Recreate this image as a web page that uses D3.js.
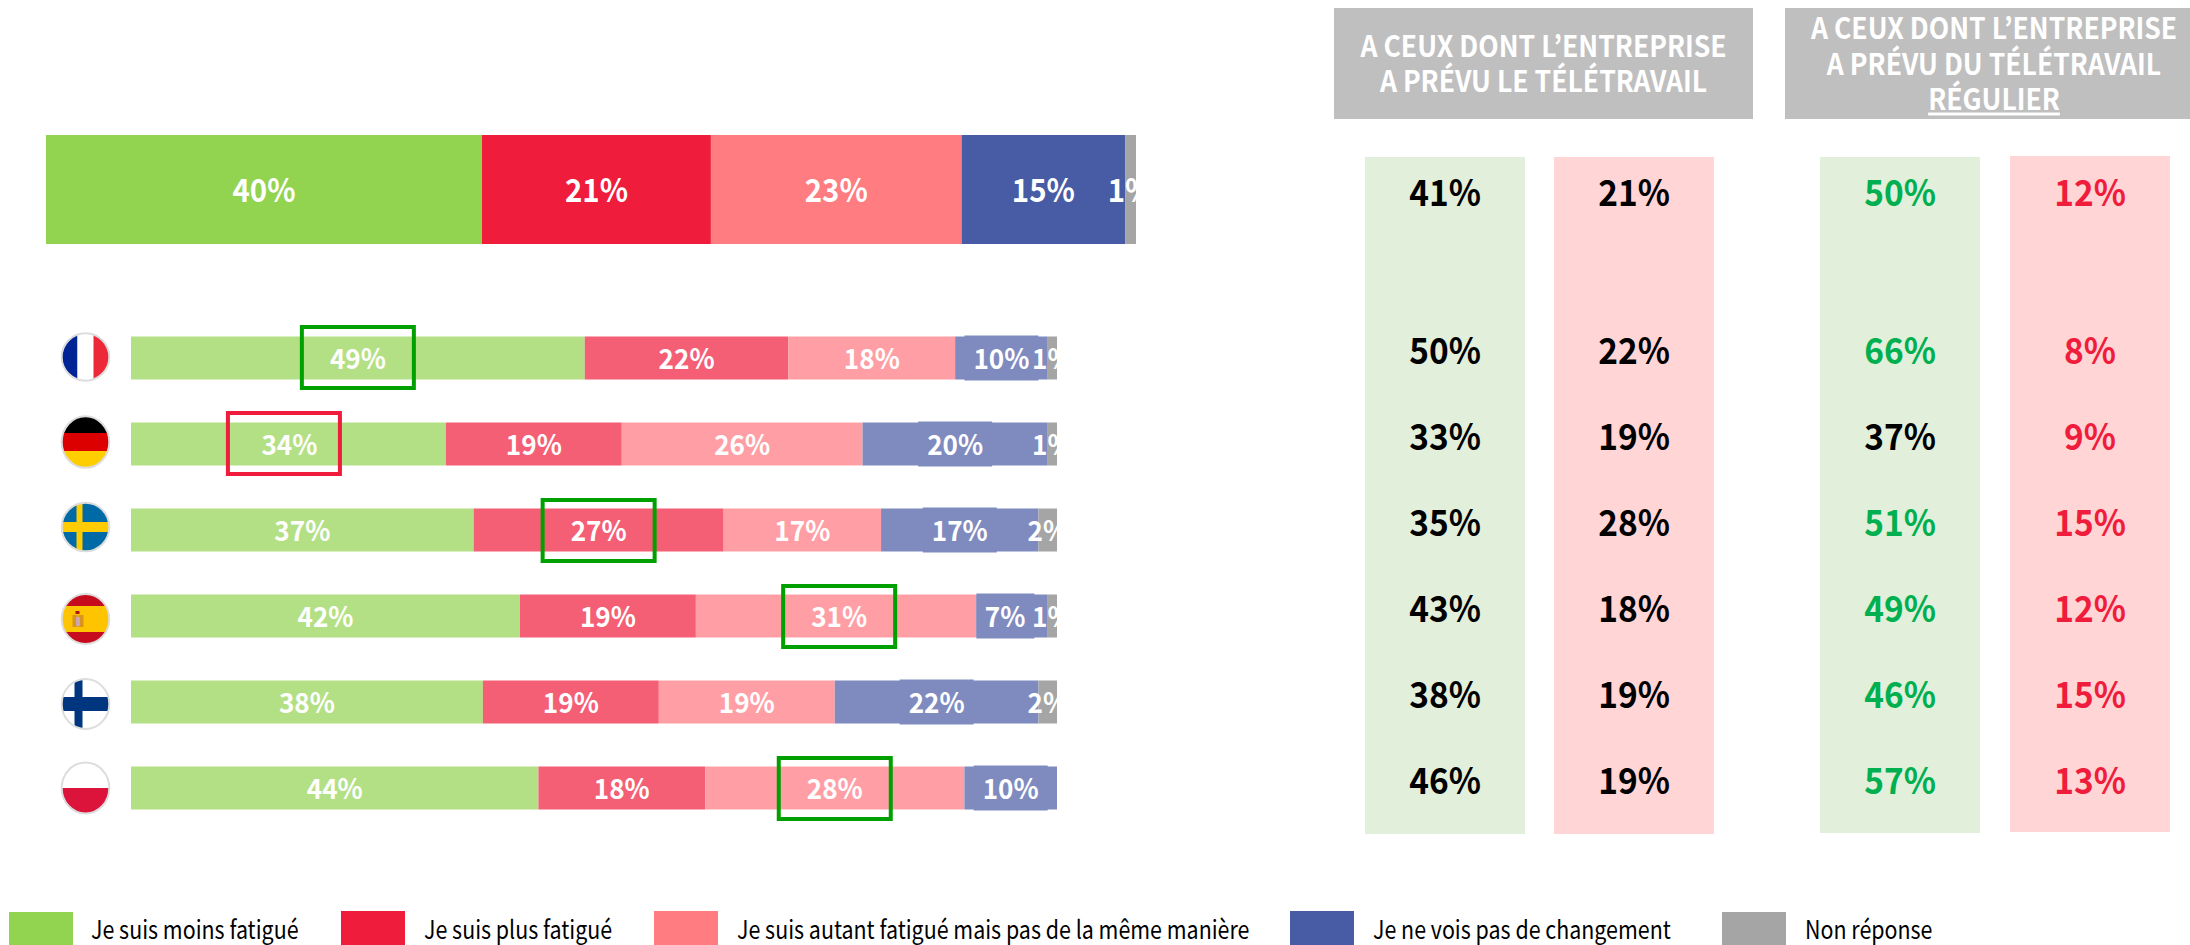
<!DOCTYPE html>
<html>
<head>
<meta charset="utf-8">
<script src="https://cdn.jsdelivr.net/npm/d3@7"></script>
<style>
  html, body { margin: 0; padding: 0; background: #fff; overflow: hidden; }
  svg { display: block; }
  text { font-family: "Noto Sans CJK JP", "Source Sans Pro", "Noto Sans", sans-serif; }
</style>
</head>
<body>
<div id="chart"></div>
<script>
// data
const seriesKeys = ["moins", "plus", "autant", "pareil", "nr"]
const seriesNames = ["Je suis moins fatigué", "Je suis plus fatigué", "Je suis autant fatigué mais pas de la même manière", "Je ne vois pas de changement", "Non réponse"]
const strongColors = ["#92D350", "#F01C3C", "#FF7C80", "#475CA4", "#A5A5A5"]
const lightColors = ["#B4E085", "#F45F76", "#FF9FA5", "#7F8BBF", "#A5A5A5"]

const totalValues = [40, 21, 23, 15, 1]

const countries = ["France", "Allemagne", "Suède", "Espagne", "Finlande", "Pologne"]
const moins = [49, 34, 37, 42, 38, 44]
const plus = [22, 19, 27, 19, 19, 18]
const autant = [18, 26, 17, 30.3, 19, 28]
const pareil = [10, 20, 17, 7.7, 22, 10]
const nr = [1, 1, 2, 1, 2, 0]
const autantLabels = [18, 26, 17, 31, 19, 28]
const pareilLabels = [10, 20, 17, 7, 22, 10]

// boxed labels: country, series, colour
const boxes = [
  ["France", "moins", "#00A000"],
  ["Allemagne", "moins", "#F01C3C"],
  ["Suède", "plus", "#00A000"],
  ["Espagne", "autant", "#00A000"],
  ["Pologne", "autant", "#00A000"]
]

const rowNames = ["Total"].concat(countries)
const prevuMoins = [41, 50, 33, 35, 43, 38, 46]
const prevuPlus = [21, 22, 19, 28, 18, 19, 19]
const regulierMoins = [50, 66, 37, 51, 49, 46, 57]
const regulierPlus = [12, 8, 9, 15, 12, 15, 13]
const regulierMoinsGreen = [true, true, false, true, true, true, true]

const svg = d3.select("#chart").append("svg").attr("width", 2190).attr("height", 945)
const defs = svg.append("defs")

const xTotal = d3.scaleLinear().domain([0, 100]).range([46, 1136])
const x = d3.scaleLinear().domain([0, 100]).range([131, 1057])
const y = d3.scalePoint().domain(countries).range([358, 788])
const barH = 43
const labelDx = { "Allemagne-moins": 1, "Espagne-autant": 3, "Espagne-pareil": -7 }
const color = d3.scaleOrdinal().domain(seriesKeys)

// the reference type is a bit narrower than the installed face
const squeeze = (px, py, sx) => `translate(${px},${py}) scale(${sx},1)`

// clip so the little 1% / 2% labels get cut at the end of the bars
defs.append("clipPath").attr("id", "clip-total").append("rect")
  .attr("x", 46).attr("y", 100).attr("width", 1090).attr("height", 180)
defs.append("clipPath").attr("id", "clip-rows").append("rect")
  .attr("x", 131).attr("y", 300).attr("width", 926).attr("height", 540)

// top bar
const totalRow = [Object.fromEntries(seriesKeys.map((k, i) => [k, totalValues[i]]))]
const totalStack = d3.stack().keys(seriesKeys)(totalRow)
color.range(strongColors)
const gTotal = svg.append("g")
gTotal.selectAll("rect").data(totalStack).join("rect")
  .attr("x", d => xTotal(d[0][0]))
  .attr("y", 135)
  .attr("width", d => xTotal(d[0][1]) - xTotal(d[0][0]))
  .attr("height", 109)
  .attr("fill", d => color(d.key))
gTotal.append("g").attr("clip-path", "url(#clip-total)")
  .selectAll("text").data(totalStack).join("text")
  .attr("transform", d => squeeze(xTotal((d[0][0] + d[0][1]) / 2), 191, 0.92))
  .attr("dy", "0.35em")
  .attr("text-anchor", "middle")
  .attr("font-size", 32)
  .attr("font-weight", 700)
  .attr("fill", "#fff")
  .text(d => d[0][1] - d[0][0] + "%")

// country bars
const rows = countries.map((c, i) => ({
  country: c, moins: moins[i], plus: plus[i], autant: autant[i], pareil: pareil[i], nr: nr[i],
  labels: { moins: moins[i], plus: plus[i], autant: autantLabels[i], pareil: pareilLabels[i], nr: nr[i] }
}))
const stacked = d3.stack().keys(seriesKeys)(rows)
color.range(lightColors)

const segments = stacked.flatMap(s => s
  .map(p => ({ key: s.key, country: p.data.country, x0: p[0], x1: p[1], label: p.data.labels[s.key] }))
  .filter(p => p.label > 0))
const cx = d => x((d.x0 + d.x1) / 2) + (labelDx[d.country + "-" + d.key] || 0)

const gRows = svg.append("g")
gRows.selectAll("rect").data(segments).join("rect")
  .attr("x", d => x(d.x0))
  .attr("y", d => y(d.country) - barH / 2)
  .attr("width", d => x(d.x1) - x(d.x0))
  .attr("height", barH)
  .attr("fill", d => color(d.key))

const gHump = svg.append("g") // the blue labels carry a slightly taller backing
const gLabels = svg.append("g").attr("clip-path", "url(#clip-rows)")
gLabels.selectAll("text").data(segments).join("text")
  .attr("transform", d => squeeze(cx(d), y(d.country) + 1, 0.95))
  .attr("dy", "0.35em")
  .attr("text-anchor", "middle")
  .attr("font-size", 27.5)
  .attr("font-weight", 700)
  .attr("fill", "#fff")
  .text(d => d.label + "%")
  .each(function (d) {
    if (d.key !== "pareil") return
    const w = this.getComputedTextLength() * 0.95 + 18
    const left = Math.max(cx(d) - w / 2, x(d.x0))
    gHump.append("rect")
      .attr("x", left)
      .attr("y", y(d.country) - barH / 2 - 1)
      .attr("width", Math.min(cx(d) + w / 2, x(d.x1)) - left)
      .attr("height", barH + 2)
      .attr("fill", color(d.key))
  })

// highlight frames
const boxDy = { France: -31, Allemagne: -31, "Suède": -30, Espagne: -30, Pologne: -30 }
svg.append("g").selectAll("rect").data(boxes).join("rect")
  .attr("x", d => {
    const s = segments.find(p => p.country === d[0] && p.key === d[1])
    return cx(s) - 56 - (d[0] === "Allemagne" ? 5.5 : 0)
  })
  .attr("y", d => y(d[0]) + boxDy[d[0]])
  .attr("width", 112)
  .attr("height", 61)
  .attr("fill", "none")
  .attr("stroke", d => d[2])
  .attr("stroke-width", 4)

// flags, drawn round 0,0
const flags = {
  France(g) {
    g.append("rect").attr("x", -26).attr("y", -28).attr("width", 18).attr("height", 56).attr("fill", "#002395")
    g.append("rect").attr("x", -8).attr("y", -28).attr("width", 16).attr("height", 56).attr("fill", "#fff")
    g.append("rect").attr("x", 8).attr("y", -28).attr("width", 18).attr("height", 56).attr("fill", "#ED2939")
  },
  Allemagne(g) {
    g.append("rect").attr("x", -26).attr("y", -28).attr("width", 52).attr("height", 19).attr("fill", "#000")
    g.append("rect").attr("x", -26).attr("y", -9).attr("width", 52).attr("height", 18).attr("fill", "#DD0000")
    g.append("rect").attr("x", -26).attr("y", 9).attr("width", 52).attr("height", 19).attr("fill", "#FFCE00")
  },
  "Suède"(g) {
    g.append("rect").attr("x", -26).attr("y", -28).attr("width", 52).attr("height", 56).attr("fill", "#006AA7")
    g.append("rect").attr("x", -9).attr("y", -28).attr("width", 6).attr("height", 56).attr("fill", "#FECC00")
    g.append("rect").attr("x", -26).attr("y", -5).attr("width", 52).attr("height", 10).attr("fill", "#FECC00")
  },
  Espagne(g) {
    g.append("rect").attr("x", -26).attr("y", -28).attr("width", 52).attr("height", 56).attr("fill", "#C60B1E")
    g.append("rect").attr("x", -26).attr("y", -13).attr("width", 52).attr("height", 26).attr("fill", "#FFC400")
    g.append("rect").attr("x", -13).attr("y", -4).attr("width", 5).attr("height", 12).attr("fill", "#D9941E")
    g.append("rect").attr("x", -7).attr("y", -4).attr("width", 5).attr("height", 12).attr("fill", "#D9941E")
    g.append("rect").attr("x", -9.5).attr("y", -2).attr("width", 4).attr("height", 9).attr("fill", "#C9A6B0")
    g.append("rect").attr("x", -10).attr("y", -8).attr("width", 4).attr("height", 3).attr("fill", "#AD1519")
  },
  Finlande(g) {
    g.append("rect").attr("x", -26).attr("y", -28).attr("width", 52).attr("height", 56).attr("fill", "#fff")
    g.append("rect").attr("x", -11).attr("y", -28).attr("width", 8).attr("height", 56).attr("fill", "#003580")
    g.append("rect").attr("x", -26).attr("y", -7).attr("width", 52).attr("height", 14).attr("fill", "#003580")
  },
  Pologne(g) {
    g.append("rect").attr("x", -26).attr("y", -28).attr("width", 52).attr("height", 28).attr("fill", "#fff")
    g.append("rect").attr("x", -26).attr("y", 0).attr("width", 52).attr("height", 28).attr("fill", "#DC143C")
  }
}
const flagDy = { France: -1, Allemagne: -2, "Suède": -3, Espagne: 3, Finlande: 2, Pologne: 0 }
const flagRy = { France: 24.7, Allemagne: 26.8, "Suède": 25.3, Espagne: 26, Finlande: 26, Pologne: 26.5 }
countries.forEach((c, i) => {
  defs.append("clipPath").attr("id", "clip-flag-" + i).append("ellipse").attr("rx", 24).attr("ry", flagRy[c] - 0.7)
  const g = svg.append("g").attr("transform", `translate(85.5,${y(c) + flagDy[c]})`)
  flags[c](g.append("g").attr("clip-path", `url(#clip-flag-${i})`))
  g.append("ellipse").attr("rx", 23.8).attr("ry", flagRy[c] - 1)
    .attr("fill", "none").attr("stroke", "#DDDDDD").attr("stroke-width", 2)
})

// right hand panels
const headers = [
  { x: 1334, w: 419, cx: 1543.5, lines: [["A CEUX DONT L’ENTREPRISE", 47], ["A PRÉVU LE TÉLÉTRAVAIL", 82]] },
  { x: 1785, w: 405, cx: 1994, lines: [["A CEUX DONT L’ENTREPRISE", 29], ["A PRÉVU DU TÉLÉTRAVAIL", 65], ["RÉGULIER", 100]] }
]
headers.forEach(h => {
  svg.append("rect").attr("x", h.x).attr("y", 8).attr("width", h.w).attr("height", 111).attr("fill", "#BFBFBF")
  h.lines.forEach((l, i) => {
    svg.append("text")
      .attr("transform", squeeze(h.cx, l[1], 0.915))
      .attr("dy", "0.36em")
      .attr("text-anchor", "middle")
      .attr("font-size", 29)
      .attr("font-weight", 700)
      .attr("fill", "#fff")
      .attr("text-decoration", i === 2 ? "underline" : null)
      .text(l[0])
  })
})

// total row sits level with the top bar, the others follow the country rows
const rowY = (r, i) => i === 0 ? 193 : y(r) - 7

const columns = [
  { x: 1365, top: 157, bottom: 834, bg: "#E2EFDA", values: prevuMoins, fill: () => "#000" },
  { x: 1554, top: 157, bottom: 834, bg: "#FFD5D5", values: prevuPlus, fill: () => "#000" },
  { x: 1820, top: 157, bottom: 833, bg: "#E2EFDA", values: regulierMoins, fill: i => regulierMoinsGreen[i] ? "#00B050" : "#000" },
  { x: 2010, top: 156, bottom: 832, bg: "#FFD5D5", values: regulierPlus, fill: () => "#F01C3C" }
]
columns.forEach(col => {
  svg.append("rect").attr("x", col.x).attr("y", col.top).attr("width", 160)
    .attr("height", col.bottom - col.top).attr("fill", col.bg)
  svg.append("g").selectAll("text").data(col.values).join("text")
    .attr("transform", (d, i) => squeeze(col.x + 80, rowY(rowNames[i], i), 0.93))
    .attr("dy", "0.35em")
    .attr("text-anchor", "middle")
    .attr("font-size", 36)
    .attr("font-weight", 700)
    .attr("fill", (d, i) => col.fill(i))
    .text(d => d + "%")
})

// legend
const legendX = [9, 341, 654, 1290, 1722]
const legendTop = [912, 911, 911, 911, 912]
const legend = svg.append("g")
seriesNames.forEach((name, i) => {
  legend.append("rect").attr("x", legendX[i]).attr("y", legendTop[i]).attr("width", 64).attr("height", 34).attr("fill", strongColors[i])
  legend.append("text").attr("transform", squeeze(legendX[i] + (i === 0 ? 82 : 83), 939, 0.857))
    .attr("font-size", 25).attr("fill", "#000").text(name)
})
</script>
</body>
</html>
